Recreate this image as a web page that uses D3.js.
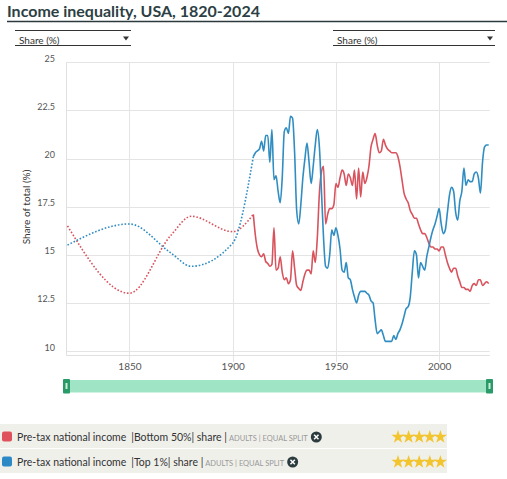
<!DOCTYPE html>
<html>
<head>
<meta charset="utf-8">
<script src="https://cdn.jsdelivr.net/npm/d3@7"></script>
<style>
  body { margin: 0; background: #fff; }
  svg { display: block; font-family: Lato, "Open Sans", sans-serif; }
</style>
</head>
<body>
<div id="chart"></div>
<script>
// early estimates (dotted part)
var earlyYears = [1820, 1850, 1870, 1880, 1900, 1910];
var earlyBottom50 = [16.5, 13.0, 16.0, 17.0, 16.2, 17.1];
var earlyTop1 = [15.5, 16.6, 15.1, 14.4, 15.6, 20.1];

// annual series 1910-2024
var firstYear = 1910;
var bottom50 = [
  17.1, 16.0, 15.3, 15.0, 14.9, 15.05, 14.65, 14.55, 14.4, 14.5,
  16.4, 14.2, 14.3, 14.9, 14.1, 13.7, 13.8, 13.5, 13.7, 15.2,
  14.3, 13.4, 13.25, 13.15, 13.6, 14.0, 14.2, 14.2, 14.0, 15.2,
  14.6, 15.9, 18.2, 19.3, 19.6, 16.6, 17.1, 17.4, 17.4, 17.6,
  18.7, 18.5, 19.0, 19.4, 19.2, 18.6, 19.2, 19.0, 18.6, 19.4,
  17.9, 19.5, 18.0, 19.3, 18.7, 19.0, 19.6, 20.6, 21.0, 21.3,
  20.7, 20.3, 20.4, 21.0, 20.7, 20.5, 20.4, 20.3, 20.3, 20.3,
  20.1, 19.6, 18.9, 18.2, 17.9, 17.7, 17.3, 17.1, 16.9, 16.9,
  16.6, 16.3, 16.1, 16.1, 15.9, 15.6, 15.4, 15.4, 15.3, 15.3,
  15.2, 15.4, 15.4, 15.0, 14.6, 14.3, 14.1, 14.3, 14.3, 13.9,
  13.6, 13.3, 13.3, 13.2, 13.2, 13.1, 13.4, 13.5, 13.4, 13.7,
  13.7, 13.4, 13.5, 13.6, 13.5
];
var top1 = [
  20.1, 20.3, 20.4, 20.5, 20.9, 20.4, 21.2, 21.2, 19.8, 21.5,
  18.9, 19.1, 18.3, 17.7, 19.0, 21.4, 21.6, 21.3, 22.2, 22.1,
  20.3, 17.3, 16.6, 17.6, 19.0, 20.0, 20.8, 19.8, 18.7, 19.6,
  20.7, 21.5, 20.6, 18.3, 15.9, 14.4, 14.3, 15.0, 16.3, 16.0,
  16.4, 16.0, 15.3, 14.2, 14.1, 14.6, 13.8, 13.7, 13.2, 12.8,
  12.5, 12.9, 13.1, 13.1, 13.1, 13.0, 12.9, 12.6, 12.5, 11.6,
  10.9, 11.0, 11.1, 10.8, 10.5, 10.5, 10.5, 10.5, 10.8, 10.6,
  10.9, 11.1, 11.4, 11.8, 12.2, 12.3, 12.8, 14.1, 15.2, 15.0,
  13.8, 14.6, 14.4, 14.2, 14.9, 15.4, 15.9, 16.3, 16.6, 17.0,
  17.4, 16.6, 16.1, 16.3, 17.2, 18.1, 18.5, 18.3, 17.2, 16.8,
  17.8, 18.3, 19.5, 18.6, 18.9, 18.8, 18.8, 19.2, 19.3, 19.0,
  18.2, 19.8, 20.6, 20.7, 20.7
];

var xTicks = [1850, 1900, 1950, 2000];
var yTicks = [10, 12.5, 15, 17.5, 20, 22.5, 25];

var legendRows = [
  { name: "Pre-tax national income", group: "|Bottom 50%| share |", color: "#e0525b" },
  { name: "Pre-tax national income", group: "|Top 1%| share |", color: "#2b8ac6" }
];

var W = 507, H = 479;
var plotLeft = 67.5, plotRight = 488.7, plotTop = 62.3, plotBottom = 351;

var svg = d3.select("#chart").append("svg").attr("width", W).attr("height", H);

// title
svg.append("text").attr("x", 7).attr("y", 16.5)
  .style("font-size", "16px").style("font-weight", "bold").style("fill", "#2c3f44")
  .text("Income inequality, USA, 1820-2024");
svg.append("line").attr("x1", 7).attr("x2", 507).attr("y1", 21.5).attr("y2", 21.5)
  .style("stroke", "#2c3a3d").style("stroke-width", 1.5);

// dropdowns
function dropdown(x0, x1) {
  var g = svg.append("g");
  g.append("line").attr("x1", x0).attr("x2", x1).attr("y1", 30.5).attr("y2", 30.5).style("stroke", "#333").style("stroke-width", 1);
  g.append("line").attr("x1", x0).attr("x2", x1).attr("y1", 45.5).attr("y2", 45.5).style("stroke", "#333").style("stroke-width", 1);
  g.append("text").attr("x", x0 + 4).attr("y", 43.5).style("font-size", "10px").style("fill", "#333").text("Share (%)");
  g.append("path").attr("d", "M" + (x1 - 8) + ",36.5 L" + (x1 - 2) + ",36.5 L" + (x1 - 5) + ",40.5 Z").style("fill", "#333");
}
dropdown(15, 131);
dropdown(333, 495);

var x = d3.scaleLinear().domain([1820, 2024]).range([plotLeft, plotRight]);
var y = d3.scaleLinear().domain([10, 25]).range([plotBottom, plotTop]);

// grid
var grid = svg.append("g");
grid.selectAll(".hg").data(yTicks).enter().append("line")
  .attr("x1", 66.5).attr("x2", plotRight + 1)
  .attr("y1", function(d) { return Math.round(y(d)) + 0.5; })
  .attr("y2", function(d) { return Math.round(y(d)) + 0.5; })
  .style("stroke", "#e4e4e4");
grid.selectAll(".vg").data(xTicks).enter().append("line")
  .attr("x1", function(d) { return Math.round(x(d)) + 0.5; })
  .attr("x2", function(d) { return Math.round(x(d)) + 0.5; })
  .attr("y1", plotTop).attr("y2", 362)
  .style("stroke", "#e4e4e4");
grid.append("line").attr("x1", 66.5).attr("x2", 66.5).attr("y1", plotTop).attr("y2", 355.5).style("stroke", "#e0e0e0");
grid.append("line").attr("x1", 66.5).attr("x2", plotRight + 1).attr("y1", 355.5).attr("y2", 355.5).style("stroke", "#e0e0e0");

// axes
var yAxis = d3.axisLeft(y).tickValues(yTicks).tickSize(0).tickPadding(0)
  .tickFormat(function(d) { return String(d); });
var gy = svg.append("g").attr("transform", "translate(55,-1)").call(yAxis);
gy.select(".domain").remove();
gy.selectAll("text").attr("dy", 0).style("font-size", "9px").style("fill", "#555").style("font-family", "Lato, sans-serif");

var xAxis = d3.axisBottom(x).tickValues(xTicks).tickSize(0).tickPadding(0).tickFormat(d3.format("d"));
var gx = svg.append("g").attr("transform", "translate(0,363)").call(xAxis);
gx.select(".domain").remove();
gx.selectAll("text").attr("dy", "0.71em").style("font-size", "10px").style("fill", "#555").style("font-family", "Lato, sans-serif");

svg.append("text")
  .attr("transform", "translate(30," + 207 + ") rotate(-90)")
  .style("text-anchor", "middle").style("font-size", "10px").style("fill", "#333")
  .text("Share of total (%)");

// lines
var line = d3.line()
  .x(function(d) { return x(d.year); })
  .y(function(d) { return y(d.value); })
  .curve(d3.curveMonotoneX);

function toRows(years, vals) {
  return vals.map(function(v, i) { return { year: years[i], value: v }; });
}
var annualYears = bottom50.map(function(d, i) { return firstYear + i; });

var series = [
  { early: toRows(earlyYears, earlyBottom50), annual: toRows(annualYears, bottom50), color: "#d8535d" },
  { early: toRows(earlyYears, earlyTop1), annual: toRows(annualYears, top1), color: "#2f8dc2" }
];

var lines = svg.append("g");
series.forEach(function(s) {
  lines.append("path").attr("d", line(s.early))
    .style("fill", "none").style("stroke", s.color).style("stroke-width", 1.6)
    .style("stroke-dasharray", "1.6,1.8");
  lines.append("path").attr("d", line(s.annual))
    .style("fill", "none").style("stroke", s.color).style("stroke-width", 1.6)
    .style("stroke-linejoin", "round");
});

// range slider
svg.append("rect").attr("x", 64).attr("y", 380).attr("width", 428).attr("height", 12.5).style("fill", "#9fe5c5");
[63, 486].forEach(function(hx) {
  svg.append("rect").attr("x", hx).attr("y", 379).attr("width", 7).attr("height", 14.5).attr("rx", 1).style("fill", "#2a9a68");
  svg.append("rect").attr("x", hx + 2.5).attr("y", 383).attr("width", 2).attr("height", 6).style("fill", "#c8f0dc");
});

// legend
var leg = svg.append("g");
legendRows.forEach(function(r, i) {
  var ry = 424 + i * 25;
  var g = leg.append("g").attr("transform", "translate(0," + ry + ")");
  g.append("rect").attr("x", 0).attr("y", 0).attr("width", 447).attr("height", 24).style("fill", "#f0f0eb");
  g.append("rect").attr("x", 2).attr("y", 7.5).attr("width", 10).attr("height", 10).attr("rx", 2).style("fill", r.color);
  var t = g.append("text").attr("x", 17).attr("y", 17).style("font-size", "10.5px").style("fill", "#333");
  t.append("tspan").text(r.name);
  t.append("tspan").attr("dx", 5).text(r.group);
  t.append("tspan").attr("dx", 2).style("font-size", "7.5px").style("fill", "#999").text("ADULTS | EQUAL SPLIT");
  var bb = t.node().getBBox();
  var cx = bb.x + bb.width + 8;
  g.append("circle").attr("cx", cx).attr("cy", 13).attr("r", 5.5).style("fill", "#2c3b3e");
  g.append("path").attr("d", "M" + (cx - 2.2) + ",10.8 L" + (cx + 2.2) + ",15.2 M" + (cx + 2.2) + ",10.8 L" + (cx - 2.2) + ",15.2")
    .style("stroke", "#fff").style("stroke-width", 1.5);
  var star = d3.symbol().type(d3.symbolStar).size(55);
  d3.range(5).forEach(function(k) {
    g.append("path").attr("d", star).attr("transform", "translate(" + (398 + k * 10.6) + ",13)").style("fill", "#f2c42e");
  });
});
</script>
</body>
</html>
